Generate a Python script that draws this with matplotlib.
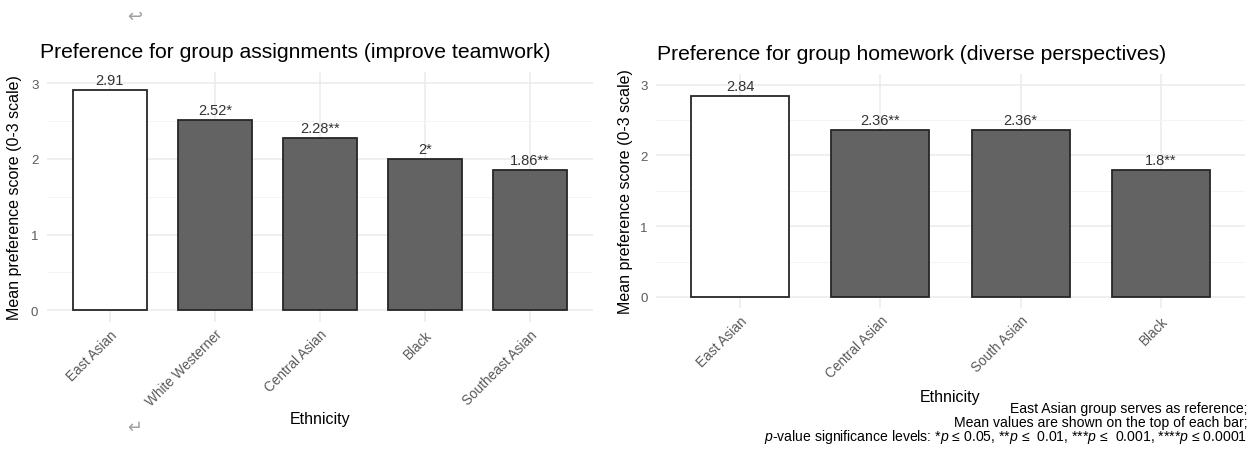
import matplotlib.pyplot as plt
from matplotlib.ticker import MultipleLocator

plt.rcParams['font.family'] = ['Liberation Sans', 'DejaVu Sans']
plt.rcParams['mathtext.fontset'] = 'custom'
plt.rcParams['mathtext.rm'] = 'Liberation Sans'
plt.rcParams['mathtext.it'] = 'Liberation Sans:italic'

# group assignments panel
left_groups = ['East Asian', 'White Westerner', 'Central Asian', 'Black', 'Southeast Asian']
left_means = [2.91, 2.52, 2.28, 2.00, 1.86]
left_sig = ['', '*', '**', '*', '**']

# group homework panel
right_groups = ['East Asian', 'Central Asian', 'South Asian', 'Black']
right_means = [2.84, 2.36, 2.36, 1.80]
right_sig = ['', '**', '*', '**']

left_title = 'Preference for group assignments (improve teamwork)'
right_title = 'Preference for group homework (diverse perspectives)'
y_title = 'Mean preference score (0-3 scale)'
x_title = 'Ethnicity'
caption_lines = [
    'East Asian group serves as reference;',
    'Mean values are shown on the top of each bar;',
    r'$\it{p}$-value significance levels: *$\it{p}$ ≤ 0.05, **$\it{p}$ ≤  0.01, '
    r'***$\it{p}$ ≤  0.001, ****$\it{p}$ ≤ 0.0001',
]
# baselines of the footnote lines, in pixels from the top
caption_y = [413.5, 427, 441.5]

W, H = 1257, 460
REF_FILL = 'white'
OTHER_FILL = '#636363'
GRID = '#ebebeb'
TICK_COL = '#5a5a5a'


def px_axes(fig, x0, x1, ytop, ybot):
    return fig.add_axes([x0 / W, 1 - ybot / H, (x1 - x0) / W, (ybot - ytop) / H])


def draw_panel(ax, groups, means, sig, ylab_x, xlab_y):
    xs = list(range(len(groups)))
    fills = [REF_FILL if i == 0 else OTHER_FILL for i in xs]
    ax.bar(xs, means, width=0.7, color=fills, edgecolor='#262626', linewidth=1.3, zorder=3)
    for x, v, s in zip(xs, means, sig):
        ax.text(x, v + 0.035, f'{v:g}{s}', ha='center', va='bottom',
                fontsize=10.5, color='#333333', zorder=4)

    ax.set_xlim(-0.6, len(groups) - 0.4)
    ax.set_ylim(-0.15, 3.15)
    ax.yaxis.set_major_locator(MultipleLocator(1))
    ax.yaxis.set_minor_locator(MultipleLocator(0.5))
    ax.set_xticks(xs)
    ax.set_xticklabels(groups, rotation=45, ha='right', rotation_mode='anchor',
                       fontsize=9.8, color=TICK_COL)
    ax.tick_params(axis='x', length=0, pad=4)
    ax.tick_params(axis='y', which='both', length=0, pad=6, labelsize=9.5, labelcolor=TICK_COL)

    ax.grid(True, which='major', color=GRID, linewidth=1.1, zorder=0)
    ax.grid(True, which='minor', axis='y', color='#f3f3f3', linewidth=0.6, zorder=0)
    ax.set_axisbelow(True)
    for sp in ax.spines.values():
        sp.set_visible(False)

    ax.set_ylabel(y_title, fontsize=11.5)
    ax.yaxis.set_label_coords(ylab_x, 0.5)
    ax.set_xlabel(x_title, fontsize=11.5)
    ax.xaxis.set_label_coords(0.5, xlab_y)


fig = plt.figure(figsize=(W / 100, H / 100), dpi=100)

ax1 = px_axes(fig, 46.7, 593, 73, 322.5)
draw_panel(ax1, left_groups, left_means, left_sig, -0.045, -0.36)

ax2 = px_axes(fig, 656, 1245, 75, 308.5)
draw_panel(ax2, right_groups, right_means, right_sig, -0.039, -0.35)

fig.text(40 / W, 1 - 52 / H, left_title, fontsize=15.2, va='center', ha='left')
fig.text(657 / W, 1 - 55 / H, right_title, fontsize=15.2, va='center', ha='left')

# footnote, one line at a time so the baselines sit evenly
for line, y in zip(caption_lines, caption_y):
    fig.text(1247 / W, 1 - y / H, line, fontsize=10.1, ha='right', va='baseline')

# stray paragraph marks
fig.text(135 / W, 1 - 17 / H, '↩', fontsize=13, color='#a0a0a0', ha='center', va='center',
         family=['DejaVu Sans'])
fig.text(135 / W, 1 - 428 / H, '↵', fontsize=13, color='#a0a0a0', ha='center', va='center',
         family=['DejaVu Sans'])

fig.savefig('out.png', dpi=100, facecolor='white')
